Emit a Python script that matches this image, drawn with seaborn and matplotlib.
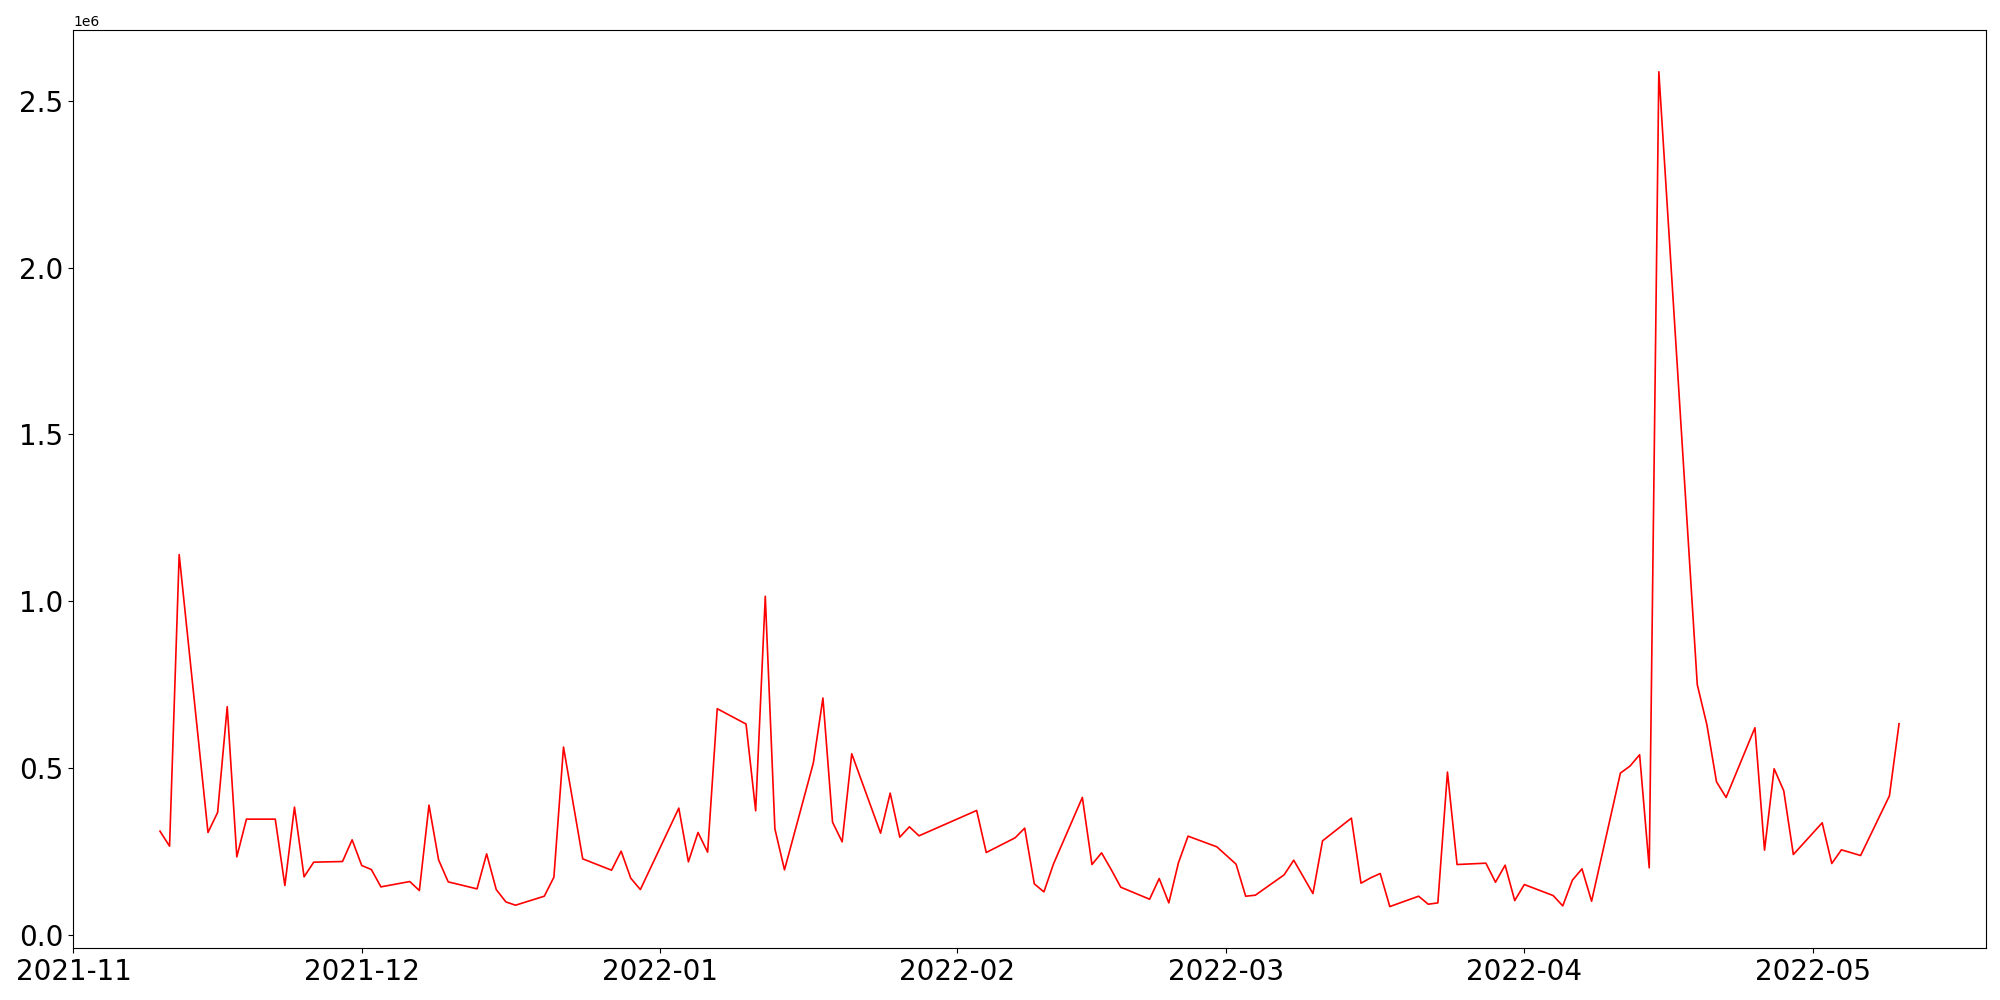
import pandas as pd
import numpy as np
import seaborn as sns
import matplotlib
matplotlib.use("Agg")
import matplotlib.pyplot as plt
import matplotlib.dates as mdates

# days counted from 2021-11-01
day_offset = [9, 10, 11, 14, 15, 16, 17, 18, 21, 22, 23, 24, 25, 28, 29, 30,
              31, 32, 35, 36, 37, 38, 39, 42, 43, 44, 45, 46, 49, 50, 51, 53,
              56, 57, 58, 59, 63, 64, 65, 66, 67, 70, 71, 72, 73, 74, 77, 78,
              79, 80, 81, 84, 85, 86, 87, 88, 94, 95, 98, 99, 100, 101, 102,
              105, 106, 107, 108, 109, 112, 113, 114, 115, 116, 119, 121, 122,
              123, 126, 127, 129, 130, 133, 134, 135, 136, 137, 140, 141, 142,
              143, 144, 147, 148, 149, 150, 151, 154, 155, 156, 157, 158, 161,
              162, 163, 164, 165, 169, 170, 171, 172, 175, 176, 177, 178, 179,
              182, 183, 184, 186, 189, 190]

# values in millions
values_m = [0.311, 0.266, 1.140, 0.307, 0.367, 0.684, 0.234, 0.347, 0.347,
            0.148, 0.383, 0.174, 0.218, 0.220, 0.285, 0.208, 0.196, 0.144,
            0.160, 0.133, 0.389, 0.225, 0.159, 0.138, 0.243, 0.136, 0.099,
            0.089, 0.116, 0.173, 0.563, 0.228, 0.194, 0.251, 0.170, 0.136,
            0.380, 0.219, 0.307, 0.248, 0.678, 0.632, 0.372, 1.015, 0.318,
            0.195, 0.515, 0.710, 0.338, 0.279, 0.543, 0.305, 0.425, 0.293,
            0.324, 0.297, 0.373, 0.247, 0.291, 0.320, 0.153, 0.129, 0.213,
            0.412, 0.211, 0.246, 0.196, 0.143, 0.107, 0.169, 0.096, 0.216,
            0.296, 0.264, 0.212, 0.116, 0.119, 0.180, 0.224, 0.124, 0.282,
            0.350, 0.155, 0.171, 0.184, 0.085, 0.116, 0.092, 0.096, 0.488,
            0.211, 0.215, 0.158, 0.209, 0.103, 0.151, 0.118, 0.087, 0.164,
            0.198, 0.101, 0.485, 0.506, 0.540, 0.201, 2.587, 0.750, 0.630,
            0.459, 0.412, 0.621, 0.254, 0.498, 0.432, 0.241, 0.336, 0.214,
            0.255, 0.238, 0.417, 0.633]

dates = pd.Timestamp("2021-11-01") + pd.to_timedelta(day_offset, unit="D")
df = pd.DataFrame({"date": dates, "value": np.array(values_m) * 1e6})

fig, ax = plt.subplots(figsize=(20, 10), dpi=100)
sns.lineplot(data=df, x="date", y="value", color="red", linewidth=1.2, ax=ax)

ax.xaxis.set_major_locator(mdates.MonthLocator())
ax.xaxis.set_major_formatter(mdates.DateFormatter("%Y-%m"))
ax.tick_params(axis="both", labelsize=20)
ax.set_xlabel("")
ax.set_ylabel("")

plt.subplots_adjust(left=0.0365, right=0.993, top=0.97, bottom=0.0517)
plt.savefig("out.png", dpi=100)
